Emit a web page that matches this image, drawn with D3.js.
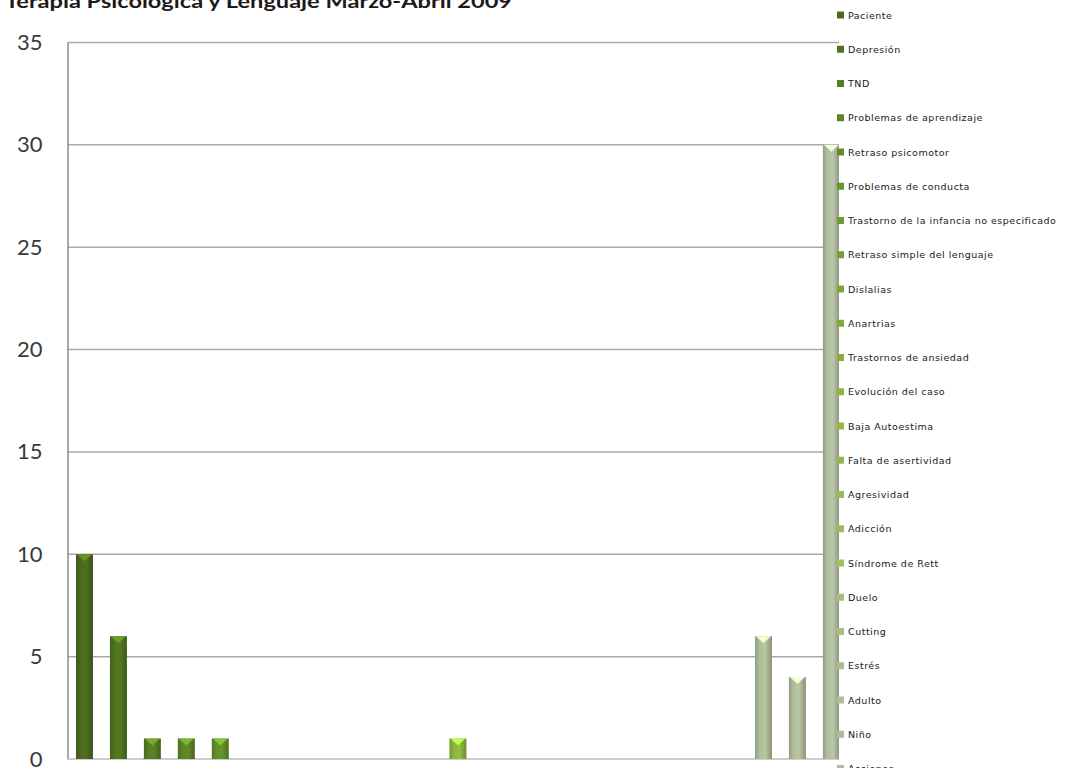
<!DOCTYPE html>
<html>
<head>
<meta charset="utf-8">
<script src="https://cdn.jsdelivr.net/npm/d3@7"></script>
<style>
  html, body { margin: 0; padding: 0; background: #fff; }
  svg { display: block; }
</style>
</head>
<body>
<svg id="chart" width="1079" height="768"></svg>
<script>
const title = "Terapia Psicológica y Lenguaje Marzo-Abril 2009";
const categories = [
  "Paciente", "Depresión", "TND", "Problemas de aprendizaje", "Retraso psicomotor",
  "Problemas de conducta", "Trastorno de la infancia  no especificado", "Retraso simple del lenguaje",
  "Dislalias", "Anartrias", "Trastornos de ansiedad", "Evolución del caso", "Baja Autoestima",
  "Falta de asertividad", "Agresividad", "Adicción", "Síndrome de Rett", "Duelo", "Cutting",
  "Estrés", "Adulto", "Niño", "Acciones"
];
const values = [10, 6, 1, 1, 1, 0, 0, 0, 0, 0, 0, 1, 0, 0, 0, 0, 0, 0, 0, 0, 6, 4, 30];
const yTicks = [0, 5, 10, 15, 20, 25, 30, 35];
const colorStopIndex = [0, 5, 11, 16, 19, 22];
const colorStops = ["#4a6a1e", "#6a962a", "#8cb53c", "#a0c263", "#acbd92", "#b0bca0"];

const svg = d3.select("#chart");
const W = 1079, H = 768;
const plot = { left: 67.5, right: 848.35, top: 42.5, bottom: 759 };

const x = d3.scaleBand().domain(categories).range([plot.left, plot.right])
  .paddingInner(0.5).paddingOuter(0.25);
const y = d3.scaleLinear().domain([0, 35]).range([plot.bottom, plot.top]);
const colorScale = d3.scaleLinear().domain(colorStopIndex).range(colorStops)
  .interpolate(d3.interpolateRgb);
const color = (d, i) => colorScale(i);

const defs = svg.append("defs");
categories.forEach((c, i) => {
  const base = d3.color(color(c, i));
  const g = defs.append("linearGradient").attr("id", "g" + i)
    .attr("x1", "0%").attr("x2", "100%").attr("y1", "0%").attr("y2", "0%");
  g.append("stop").attr("offset", "0%").attr("stop-color", base.darker(0.5));
  g.append("stop").attr("offset", "25%").attr("stop-color", base);
  g.append("stop").attr("offset", "60%").attr("stop-color", base.brighter(0.15));
  g.append("stop").attr("offset", "100%").attr("stop-color", base.darker(0.7));
});

svg.append("g").selectAll("line").data(yTicks.filter(t => t > 0)).join("line")
  .attr("x1", plot.left).attr("x2", plot.right)
  .attr("y1", d => y(d)).attr("y2", d => y(d))
  .attr("stroke", "#a8a8a8").attr("stroke-width", 1.5);

const yAxis = d3.axisLeft(y).tickValues(yTicks).tickSize(0).tickPadding(25);
const ya = svg.append("g").attr("transform", `translate(${plot.left},0)`).call(yAxis);
ya.select(".domain").attr("stroke", "#8c8c8c").attr("stroke-width", 1.5);
ya.selectAll("text").attr("font-family", "Lato, 'Open Sans', sans-serif")
  .attr("font-size", 22).attr("fill", "#3a3a3a");

svg.append("line").attr("x1", plot.left).attr("x2", plot.right)
  .attr("y1", y(0)).attr("y2", y(0)).attr("stroke", "#bdbdbd").attr("stroke-width", 1.5);

const bars = svg.append("g").selectAll("g").data(categories.map((c, i) => ({ c, i, v: values[i] })))
  .join("g").filter(d => d.v > 0);
bars.append("rect")
  .attr("x", d => x(d.c)).attr("width", x.bandwidth())
  .attr("y", d => y(d.v)).attr("height", d => y(0) - y(d.v))
  .attr("fill", d => `url(#g${d.i})`);
bars.append("path")
  .attr("d", d => {
    const x0 = x(d.c), w = x.bandwidth(), t = y(d.v);
    return `M${x0 + 1},${t} L${x0 + w - 1},${t} L${x0 + w / 2},${t + 7} Z`;
  })
  .attr("fill", d => d3.color(color(d.c, d.i)).brighter(0.9));

svg.append("rect").attr("x", 839).attr("y", 0).attr("width", W - 839).attr("height", H).attr("fill", "#fff");
const leg = svg.append("g").selectAll("g").data(categories).join("g")
  .attr("transform", (d, i) => `translate(837,${15 + i * 34.25})`);
leg.append("rect").attr("x", 0).attr("y", -3.5).attr("width", 7).attr("height", 7)
  .attr("fill", (d, i) => color(d, i));
leg.append("text").attr("x", 11).attr("y", 3.5)
  .attr("font-family", "'DejaVu Sans', sans-serif").attr("font-size", 9.5)
  .attr("letter-spacing", 0.5).attr("fill", "#1a1a1a").text(d => d);

svg.append("text").attr("x", 5).attr("y", 8)
  .attr("font-family", "Lato, 'Open Sans', sans-serif").attr("font-weight", "bold")
  .attr("font-size", 18).attr("fill", "#1a1a1a")
  .attr("textLength", 507).attr("lengthAdjust", "spacingAndGlyphs")
  .text(title);
</script>
</body>
</html>
